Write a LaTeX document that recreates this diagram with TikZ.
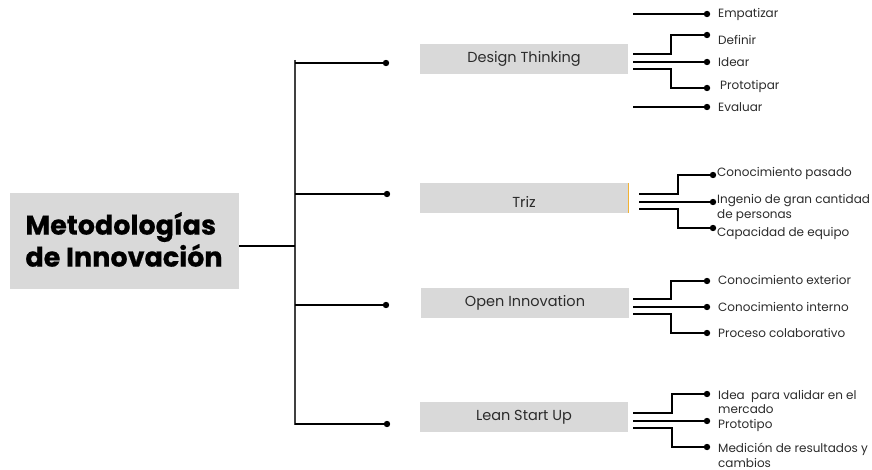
\documentclass[tikz,border=0pt]{standalone}
\usepackage{fontspec}
\setmainfont{Poppins}
\definecolor{boxgray}{HTML}{D9D9D9}
\definecolor{txt}{HTML}{2B2B2B}
\definecolor{edgeorange}{HTML}{F2B233}
\begin{document}
\begin{tikzpicture}[x=1pt,y=-1pt,
  catbox/.style={fill=boxgray, draw=none, minimum width=208pt, minimum height=30pt, inner sep=0pt,
     text=txt, font=\fontsize{14.5}{16}\selectfont},
  leaf/.style={anchor=west, inner sep=0pt, text=txt, align=left, font=\fontsize{12}{14.5}\selectfont},
  conn/.style={line width=1.3pt, black},
  spine/.style={line width=1.2pt, black!75},
  dotc/.style={circle, fill=black, inner sep=0pt, minimum size=6.4pt}
]
\useasboundingbox (0,0) rectangle (872,470);

% main box
\node[fill=boxgray, minimum width=229pt, minimum height=96pt, inner sep=0pt] (main) at (124.5,241) {};
\node[align=left, inner sep=0pt, font=\fontsize{27}{32}\selectfont\bfseries\addfontfeatures{FakeBold=0.6}] (maintxt) at (124,239.5) {Metodologías\\de Innovación};

% spine
\coordinate (sTop) at (295,60);
\coordinate (sBot) at (295,425);
\coordinate (sMid) at (295,246);
\coordinate (s1) at (295,63);
\coordinate (s2) at (295,194);
\coordinate (s3) at (295,305);
\coordinate (s4) at (295,424);
\draw[spine] (sTop) -- (sBot);
\draw[conn] (main.east |- sMid) -- (sMid);

% branch dots
\node[dotc] (d1) at (386,63) {};
\node[dotc] (d2) at (387,194) {};
\node[dotc] (d3) at (386,305) {};
\node[dotc] (d4) at (387,424) {};
\draw[conn] (s1) -- (d1);
\draw[conn] (s2) -- (d2);
\draw[conn] (s3) -- (d3);
\draw[conn] (s4) -- (d4);

% category boxes
\node[catbox] (dt) at (524,59) {Design Thinking};
\node[catbox] (triz) at (524,198) {};
\node[text=txt, font=\fontsize{14.5}{16}\selectfont, inner sep=0pt] (triztxt) at (524,202) {Triz};
\draw[edgeorange, line width=1pt] (triz.north east) -- (triz.south east);
\node[catbox] (oi) at (525,302.5) {Open Innovation};
\node[catbox] (lsu) at (524,417) {Lean Start Up};

% ---- Design Thinking leaves
\node[dotc] (e1) at (707,14) {};
\node[dotc] (e2) at (707,35) {};
\node[dotc] (e3) at (707,62) {};
\node[dotc] (e4) at (707,88) {};
\node[dotc] (e5) at (707,107) {};
\coordinate (a1) at (633,14);
\coordinate (a2) at (633,54);
\coordinate (a3) at (633,62);
\coordinate (a4) at (633,69);
\coordinate (a5) at (633,107);
\draw[conn] (a1) -- (e1);
\draw[conn] (a2) -- (671,54) -- (671,35) -- (e2);
\draw[conn] (a3) -- (e3);
\draw[conn] (a4) -- (671,69) -- (671,88) -- (e4);
\draw[conn] (a5) -- (e5);
\node[leaf] (l1) at (718,14) {Empatizar};
\node[leaf] (l2) at (718,40) {Definir};
\node[leaf] (l3) at (718,62) {Idear};
\node[leaf] (l4) at (720,86) {Prototipar};
\node[leaf] (l5) at (718,107) {Evaluar};

% ---- Triz leaves
\node[dotc] (t1) at (713,175) {};
\node[dotc] (t2) at (713,202) {};
\node[dotc] (t3) at (713,228) {};
\coordinate (b1) at (639,194);
\coordinate (b2) at (639,202);
\coordinate (b3) at (639,209);
\draw[conn] (b1) -- (678,194) -- (678,175) -- (t1);
\draw[conn] (b2) -- (t2);
\draw[conn] (b3) -- (678,209) -- (678,228) -- (t3);
\node[leaf] (m1) at (717,173) {Conocimiento pasado};
\node[leaf] (m2) at (717,208) {Ingenio de gran cantidad\\de personas};
\node[leaf] (m3) at (717,233) {Capacidad de equipo};

% ---- Open Innovation leaves
\node[dotc] (o1) at (707,281) {};
\node[dotc] (o2) at (707,307) {};
\node[dotc] (o3) at (707,333) {};
\coordinate (c1) at (633,299);
\coordinate (c2) at (633,307);
\coordinate (c3) at (633,314);
\draw[conn] (c1) -- (671,299) -- (671,281) -- (o1);
\draw[conn] (c2) -- (o2);
\draw[conn] (c3) -- (671,314) -- (671,333) -- (o3);
\node[leaf] (n1) at (718,280) {Conocimiento exterior};
\node[leaf] (n2) at (718,307) {Conocimiento interno};
\node[leaf] (n3) at (718,333) {Proceso colaborativo};

% ---- Lean Start Up leaves
\node[dotc] (u1) at (707,394) {};
\node[dotc] (u2) at (707,421) {};
\node[dotc] (u3) at (707,447) {};
\coordinate (f1) at (633,413);
\coordinate (f2) at (633,421);
\coordinate (f3) at (633,428);
\draw[conn] (f1) -- (672,413) -- (672,394) -- (u1);
\draw[conn] (f2) -- (u2);
\draw[conn] (f3) -- (672,428) -- (672,447) -- (u3);
\node[leaf] (p1) at (718,402) {Idea~ para validar en el\\mercado};
\node[leaf] (p2) at (718,425) {Prototipo};
\node[leaf] (p3) at (718,455.5) {Medición de resultados y\\cambios};
\end{tikzpicture}
\end{document}
